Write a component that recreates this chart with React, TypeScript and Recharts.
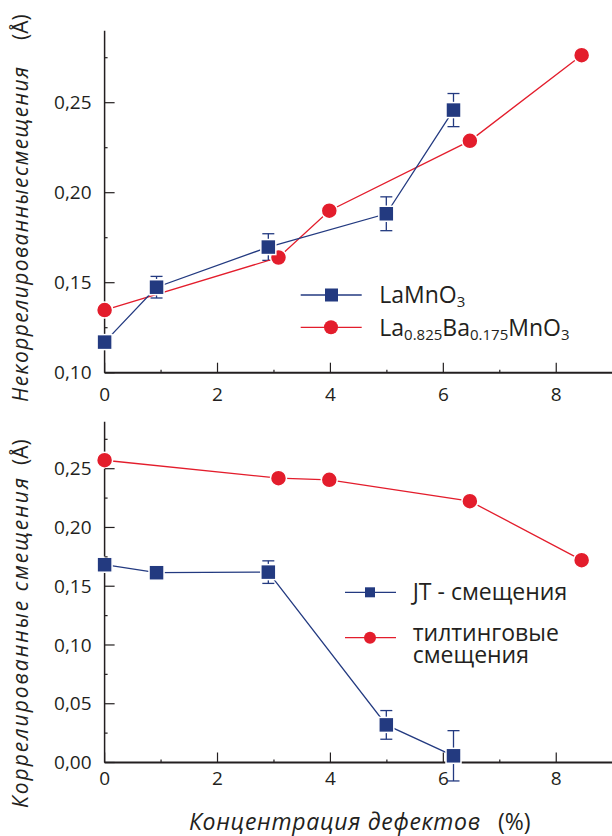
import React from "react";
import { ComposedChart, Scatter, ErrorBar, XAxis, YAxis } from "recharts";

const INK = "#231f20";
const BLUE = "#233a80";
const RED = "#e31d2c";
const FONT = "'Open Sans', 'Noto Sans', sans-serif";

// концентрация дефектов, %
const laX = [0, 0.92, 2.9, 4.99, 6.18];
const baX = [0, 3.08, 3.98, 6.47, 8.45];

// верхняя панель: некоррелированные смещения, Å
const laUncorr = [0.117, 0.1475, 0.1698, 0.1883, 0.2459];
const laUncorrErr = [0, 0.006, 0.0074, 0.0094, 0.0092];
const baUncorr = [0.1348, 0.164, 0.19, 0.2288, 0.2764];

// нижняя панель: коррелированные смещения, Å
const jtCorr = [0.1683, 0.1615, 0.162, 0.032, 0.0057];
const jtCorrErr = [0, 0, 0.0096, 0.0122, 0.0214];
const tiltCorr = [0.2572, 0.2419, 0.2405, 0.2224, 0.1722];

const xTicks = [0, 2, 4, 6, 8];
const xMinor = [1, 3, 5, 7];
const topYTicks = [0.1, 0.15, 0.2, 0.25];
const topYMinor = [0.125, 0.175, 0.225, 0.275];
const botYTicks = [0, 0.05, 0.1, 0.15, 0.2, 0.25];
const botYMinor = [0.025, 0.075, 0.125, 0.175, 0.225, 0.275];

const rows = (xs: number[], ys: number[], errs?: number[]) =>
  xs.map((x, i) => ({ x, y: ys[i], err: errs ? errs[i] : 0 }));

const fmtY = (v: number) => v.toFixed(2).replace(".", ",");

type Side = "bottom" | "top" | "left" | "right";

// ticks point inward, labels only on bottom/left
function makeTick(side: Side, majors: number[], drop = 0) {
  return (props: any) => {
    const { x, y, payload } = props;
    const v = Number(payload.value);
    const major = majors.some((m) => Math.abs(m - v) < 1e-6);
    const len = major ? 10 : 3;
    const ln = { stroke: INK, strokeWidth: 1.2 };
    if (side === "bottom")
      return (
        <g>
          <line x1={x} x2={x} y1={y} y2={y - len} {...ln} />
          {major && (
            <text x={x} y={y + drop} textAnchor="middle" fontSize={19} fill={INK} fontFamily={FONT}>
              {v}
            </text>
          )}
        </g>
      );
    if (side === "top") return <line x1={x} x2={x} y1={y} y2={y + len} {...ln} />;
    if (side === "right") return <line x1={x} x2={x - len} y1={y} y2={y} {...ln} />;
    return (
      <g>
        <line x1={x} x2={x + len} y1={y} y2={y} {...ln} />
        {major && (
          <text x={x - 13} y={y + 6.7} textAnchor="end" fontSize={19} fill={INK} fontFamily={FONT}>
            {fmtY(v)}
          </text>
        )}
      </g>
    );
  };
}

const square = (size: number, color: string) => (p: any) =>
  <rect x={p.cx - size / 2} y={p.cy - size / 2} width={size} height={size} fill={color} stroke="#fff" strokeWidth={1.5} />;
const circle = (r: number, color: string) => (p: any) =>
  <circle cx={p.cx} cy={p.cy} r={r} fill={color} stroke="#fff" strokeWidth={1.5} />;

type PanelProps = {
  top: number;
  marginTop: number;
  plotH: number;
  axisH: number;
  yDomain: [number, number];
  yTicks: number[];
  yMinor: number[];
  drop: number;
  blue: { x: number; y: number; err: number }[];
  red: { x: number; y: number; err: number }[];
};

function Panel(p: PanelProps) {
  const allX = [...xTicks, ...xMinor].sort((a, b) => a - b);
  const allY = [...p.yTicks, ...p.yMinor].sort((a, b) => a - b);
  return (
    <div style={{ position: "absolute", left: 0, top: p.top }}>
      <ComposedChart
        width={620}
        height={p.marginTop + p.plotH + p.axisH}
        margin={{ top: p.marginTop, right: 7.3, bottom: 0, left: 0 }}
      >
        <XAxis xAxisId="b" dataKey="x" type="number" domain={[0, 9]} ticks={allX} interval={0}
          height={p.axisH} tickSize={0} tickMargin={0} tickLine={false}
          axisLine={{ stroke: INK, strokeWidth: 2 }} tick={makeTick("bottom", xTicks, p.drop)} />
        <XAxis xAxisId="t" orientation="top" dataKey="x" type="number" domain={[0, 9]} ticks={allX} interval={0}
          height={0} tickSize={0} tickMargin={0} tickLine={false}
          axisLine={{ stroke: INK, strokeWidth: 1.5 }} tick={makeTick("top", xTicks)} />
        {/* fixed range: error bars may run past the axis without stretching it */}
        <YAxis yAxisId="l" dataKey="y" type="number" domain={p.yDomain} allowDataOverflow ticks={allY} interval={0}
          width={104.6} tickSize={0} tickMargin={0} tickLine={false}
          axisLine={{ stroke: INK, strokeWidth: 1.5 }} tick={makeTick("left", p.yTicks)} />
        <YAxis yAxisId="r" orientation="right" dataKey="y" type="number" domain={p.yDomain} allowDataOverflow ticks={allY} interval={0}
          width={0} tickSize={0} tickMargin={0} tickLine={false}
          axisLine={{ stroke: INK, strokeWidth: 1.5 }} tick={makeTick("right", p.yTicks)} />
        <Scatter className="noclip" xAxisId="b" yAxisId="l" data={p.red} fill={RED} isAnimationActive={false}
          line={{ stroke: RED, strokeWidth: 1.3 }} shape={circle(8, RED)} />
        <Scatter className="noclip" xAxisId="b" yAxisId="l" data={p.blue} fill={BLUE} isAnimationActive={false}
          line={{ stroke: BLUE, strokeWidth: 1.3 }} shape={square(15, BLUE)}>
          <ErrorBar dataKey="err" direction="y" width={6} stroke={BLUE} strokeWidth={1.3} isAnimationActive={false} />
        </Scatter>
      </ComposedChart>
    </div>
  );
}

function Overlay() {
  const t = { fill: INK, fontFamily: FONT };
  return (
    <svg width={612} height={836} style={{ position: "absolute", left: 0, top: 0, pointerEvents: "none" }}>
      {/* axis titles */}
      <text transform="translate(28,402) rotate(-90)" fontSize={21} fontStyle="italic" textLength={335} {...t}>
        Некоррелированныесмещения
      </text>
      <text transform="translate(28,40) rotate(-90)" fontSize={21} {...t}>(Å)</text>
      <text transform="translate(28,808) rotate(-90)" fontSize={21} fontStyle="italic" textLength={330} {...t}>
        Коррелированные смещения
      </text>
      <text transform="translate(28,465) rotate(-90)" fontSize={21} {...t}>(Å)</text>
      <text x={189} y={830} fontSize={23} fontStyle="italic" textLength={291} {...t}>Концентрация дефектов</text>
      <text x={498} y={830} fontSize={23} {...t}>(%)</text>

      {/* top legend */}
      <line x1={300.7} x2={361.7} y1={295} y2={295} stroke={BLUE} strokeWidth={1.3} />
      <rect x={325} y={288.5} width={13} height={13} fill={BLUE} />
      <text x={379.3} y={303} fontSize={23} {...t}>
        LaMnO<tspan fontSize={15} dy={4}>3</tspan>
      </text>
      <line x1={300.7} x2={361.7} y1={327.3} y2={327.3} stroke={RED} strokeWidth={1.3} />
      <circle cx={331} cy={327.3} r={7} fill={RED} />
      <text x={379.3} y={336} fontSize={23} {...t}>
        La<tspan fontSize={15} dy={4}>0.825</tspan>
        <tspan dy={-4}>Ba</tspan>
        <tspan fontSize={15} dy={4}>0.175</tspan>
        <tspan dy={-4}>MnO</tspan>
        <tspan fontSize={15} dy={4}>3</tspan>
      </text>

      {/* bottom legend */}
      <line x1={345} x2={396} y1={592.3} y2={592.3} stroke={BLUE} strokeWidth={1.3} />
      <rect x={365} y={587.3} width={10} height={10} fill={BLUE} />
      <text x={412.7} y={600} fontSize={23} {...t}>JT - смещения</text>
      <line x1={345} x2={396} y1={637.7} y2={637.7} stroke={RED} strokeWidth={1.3} />
      <circle cx={370} cy={637.7} r={6} fill={RED} />
      <text x={412.7} y={641} fontSize={23} {...t}>
        тилтинговые
        <tspan x={412.7} dy={22}>смещения</tspan>
      </text>
    </svg>
  );
}

export default function App() {
  return (
    <div style={{ position: "absolute", left: 0, top: 0, width: 612, height: 836, overflow: "hidden", background: "#fff" }}>
      <style>{`.noclip{clip-path:none !important;}`}</style>
      <Panel
        top={0}
        marginTop={30.7}
        plotH={342}
        axisH={37.3}
        yDomain={[0.1, 0.29]}
        yTicks={topYTicks}
        yMinor={topYMinor}
        drop={28}
        blue={rows(laX, laUncorr, laUncorrErr)}
        red={rows(baX, baUncorr)}
      />
      <Panel
        top={400}
        marginTop={21.7}
        plotH={340.8}
        axisH={40}
        yDomain={[0, 0.29]}
        yTicks={botYTicks}
        yMinor={botYMinor}
        drop={22.7}
        blue={rows(laX, jtCorr, jtCorrErr)}
        red={rows(baX, tiltCorr)}
      />
      <Overlay />
    </div>
  );
}
